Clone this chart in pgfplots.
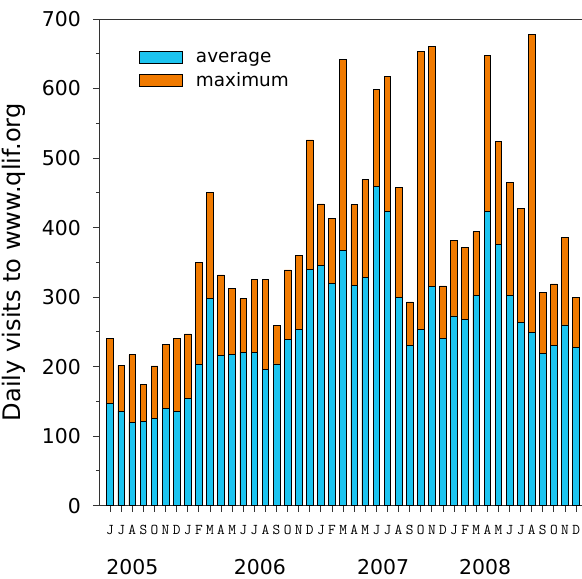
\documentclass[border=0pt]{standalone}
\usepackage{pgfplots}
\usepackage{pgfplotstable}
\pgfplotsset{compat=1.18}
\usepackage{fontspec}
\setmainfont{DejaVu Sans}
\definecolor{avgblue}{RGB}{28,196,240}
\definecolor{maxorange}{RGB}{240,122,0}
\pgfplotstableread{
x avg max
1 147 240
2 136 202
3 120 217
4 121 175
5 126 201
6 140 232
7 135 240
8 154 247
9 203 350
10 298 450
11 216 332
12 217 313
13 221 298
14 220 326
15 196 325
16 204 259
17 239 339
18 253 360
19 340 526
20 345 434
21 320 413
22 367 642
23 317 433
24 328 469
25 459 599
26 423 617
27 300 458
28 230 293
29 254 653
30 315 660
31 240 316
32 273 382
33 268 371
34 302 394
35 423 648
36 376 524
37 302 465
38 264 427
39 249 678
40 219 307
41 230 319
42 260 386
43 228 300
}\visits
\begin{document}
\begin{tikzpicture}
\begin{axis}[
  scale only axis,
  width=483bp, height=486.7bp,
  xmin=0, xmax=43.53,
  ymin=0, ymax=700,
  axis lines*=left,
  axis line style={draw=black!80, line width=0.9bp},
  tick align=outside,
  major tick length=6bp,
  minor tick length=3bp,
  tick style={black!80, line width=0.9bp},
  ytick={0,100,...,700},
  minor ytick={50,150,...,650},
  xtick={1,...,43},
  xticklabels={J,J,A,S,O,N,D,J,F,M,A,M,J,J,A,S,O,N,D,J,F,M,A,M,J,J,A,S,O,N,D,J,F,M,A,M,J,J,A,S,O,N,D},
  xticklabel style={font=\fontsize{15}{15}\ttfamily, anchor=base, yshift=-22.5bp, inner sep=0pt},
  yticklabel style={font=\fontsize{20.5}{24}\selectfont, inner sep=0pt, xshift=-12bp},
  /pgf/number format/assume math mode=true,
  ylabel={Daily visits to www.qlif.org},
  ylabel style={font=\fontsize{24.2}{27}\selectfont, at={(axis description cs:-0.176,0.5)}, anchor=center},
  ybar, bar shift=0pt, bar width=0.6,
  clip=false,
  legend style={draw=none, fill=none, at={(axis description cs:0.083,0.937)}, anchor=north west,
    font=\fontsize{18.5}{20}\selectfont, row sep=5bp, inner sep=0pt,
    legend cell align=left},
  legend image code/.code={\draw[#1] (0bp,-6bp) rectangle (43bp,6bp); \path (54bp,0bp);},
  reverse legend,
]
\addplot[fill=maxorange, draw=black, line width=0.7bp] table[x=x,y=max]{\visits};
\addlegendentry{maximum}
\addplot[fill=avgblue, draw=black, line width=0.7bp] table[x=x,y=avg]{\visits};
\addlegendentry{average}
\draw[black!80, line width=0.9bp] (rel axis cs:0,1) -- (rel axis cs:1,1);
\coordinate (O) at (rel axis cs:0,0);
\node[font=\fontsize{20.5}{24}\selectfont, anchor=center] at ([yshift=-61bp]axis cs:3.0,0) {2005};
\node[font=\fontsize{20.5}{24}\selectfont, anchor=center] at ([yshift=-61bp]axis cs:14.5,0) {2006};
\node[font=\fontsize{20.5}{24}\selectfont, anchor=center] at ([yshift=-61bp]axis cs:25.6,0) {2007};
\node[font=\fontsize{20.5}{24}\selectfont, anchor=center] at ([yshift=-61bp]axis cs:34.8,0) {2008};
\end{axis}
\pgfresetboundingbox
\path ([xshift=-99bp,yshift=-73.3bp]O) rectangle ([xshift=483bp,yshift=505.7bp]O);
\end{tikzpicture}
\end{document}
